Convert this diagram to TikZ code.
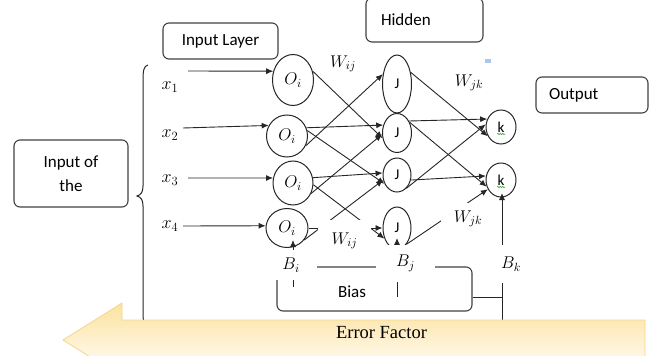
\RequirePackage{fix-cm}
\documentclass[tikz,border=0pt]{standalone}
\usepackage{fontspec}
\setmainfont{Liberation Serif}
\setsansfont{Carlito}
\usetikzlibrary{
  arrows.meta,
  shapes.geometric,
  calc,
  decorations.pathmorphing
}
\definecolor{inkgray}{RGB}{38,38,38}
\definecolor{boxgray}{RGB}{64,64,64}
\definecolor{errfill}{RGB}{252,226,158}
\definecolor{erredge}{RGB}{243,214,140}
\definecolor{markblue}{RGB}{168,199,234}
\definecolor{spellgreen}{RGB}{60,170,60}
\tikzset{
  labelbox/.style={draw=boxgray, rounded corners=6pt, line width=1.1pt,
    font=\sffamily\fontsize{17}{20}\selectfont, inner sep=0pt},
  neuron/.style={draw=inkgray, ellipse, fill=white, line width=1pt, inner sep=0pt},
  wire/.style={draw=inkgray, line width=0.9pt, -{Latex[length=7pt,width=6pt]}},
  cover/.style={fill=white, inner sep=0pt, font=\fontsize{17}{20}\selectfont},
}

\begin{document}
\begin{tikzpicture}[x=1pt, y=-1pt]
\useasboundingbox (0,0) rectangle (651,356);
\clip (0,0) rectangle (651,356);

% captions
\node[labelbox, minimum width=115pt, minimum height=36pt] (inlayer) at (220.5,41) {Input Layer};
\node[labelbox, minimum height=44pt, text width=87pt, inner xsep=15pt, align=left] (hidden) at (424.5,20) {Hidden};
\node[labelbox, minimum height=36pt, text width=86pt, inner xsep=13pt, align=left] (output) at (592,95) {Output};
\node[labelbox, minimum width=114pt, minimum height=67pt, align=center,
      font=\sffamily\fontsize{17}{24.5}\selectfont] (inputof) at (71,173.5) {Input of\\the};

% brace
\draw[inkgray, line width=1pt] (148,65) .. controls (144,66) and (143,70) .. (143,80) -- (143,186)
  .. controls (143,192) and (141,195) .. (137,196) .. controls (141,197) and (143,200) .. (143,206)
  -- (143,312) .. controls (143,322) and (144,326) .. (148,327);

% inputs
\foreach \i/\y in {1/87, 2/135, 3/180, 4/226}
  \node[font=\fontsize{18}{20}\selectfont] (x\i) at (170,\y) {$x_{\i}$};
\coordinate (x1s) at (188,71);
\coordinate (x2s) at (183,128);
\coordinate (x3s) at (188,178);
\coordinate (x4s) at (183,226);

% neurons
\node[neuron, minimum width=41pt, minimum height=51pt, font=\fontsize{17}{18}\selectfont] (o1) at (293,80) {$O_i$};
\node[neuron, minimum width=41pt, minimum height=42pt, font=\fontsize{17}{18}\selectfont] (o2) at (287,136) {$O_i$};
\node[neuron, minimum width=40pt, minimum height=44pt, font=\fontsize{17}{18}\selectfont] (o3) at (293,183) {$O_i$};
\node[neuron, minimum width=42pt, minimum height=39pt, font=\fontsize{17}{18}\selectfont] (o4) at (287,228) {$O_i$};
\node[neuron, minimum width=29pt, minimum height=58pt, font=\sffamily\fontsize{15}{18}\selectfont] (j1) at (397,84) {J};
\node[neuron, minimum width=29pt, minimum height=39pt, font=\sffamily\fontsize{15}{18}\selectfont] (j2) at (397,133) {J};
\node[neuron, minimum width=28pt, minimum height=34pt, font=\sffamily\fontsize{15}{18}\selectfont] (j3) at (397,175) {J};
\node[neuron, minimum width=28pt, minimum height=42pt, font=\sffamily\fontsize{15}{18}\selectfont] (j4) at (397,228) {J};
\node[neuron, minimum width=30pt, minimum height=34pt, font=\sffamily\fontsize{15}{18}\selectfont] (k1) at (501,127) {k};
\node[neuron, minimum width=30pt, minimum height=34pt, font=\sffamily\fontsize{15}{18}\selectfont] (k2) at (501,180) {k};

% weights
\draw[wire] (x1s) -- (o1.156);
\draw[wire] (x2s) -- (o2.150);
\draw[wire] (x3s) -- (o3.166);
\draw[wire] (x4s) -- (o4.174);
\foreach \a/\b in {o1.24/j2.200, o2.-28/j1.145, o2.23/j2.150, o2.15/j3.215, o3.-30/j2.185,
                   o3.15/j3.172, o3.-5/j4.220, o4.-35/j3.200, o4.0/j4.180}
  \draw[wire] (\a) -- (\b);
\foreach \a/\b in {j1.40/k1.215, j2.45/k1.150, j2.40/k2.205, j3.-55/k1.170,
                   j3.-20/k2.165, j4.-60/k2.215}
  \draw[wire] (\a) -- (\b);

% bias
\node[draw=boxgray, rounded corners=6pt, line width=1.1pt, minimum width=195pt, minimum height=44pt] (biasbox) at (374.5,289) {};
\node[font=\sffamily\fontsize{17}{20}\selectfont] (biastext) at (352,292) {Bias};
\coordinate (bifoot) at (293,287);
\coordinate (bjfoot) at (397,297);
\coordinate (bkfoot) at (502,324);
\draw[wire, shorten >=12pt] (bifoot) -- (bifoot |- o4.center);
\draw[wire, shorten >=10pt] (bjfoot) -- (bjfoot |- j4.center);
\draw[wire, shorten >=13pt] (bkfoot) -- (bkfoot |- k2.center);
\draw[inkgray, line width=0.9pt] (biasbox.-5) -- (biasbox.-5 -| bkfoot);

% labels
\node[cover] (wij1) at (343,64) {$W_{ij}$};
\node[cover] (wjk1) at (469,83) {$W_{jk}$};
\node[cover, minimum width=53pt, minimum height=42pt] (wij2) at (344.5,241) {$W_{ij}$};
\node[cover, minimum width=54pt, minimum height=32pt] (wjk2) at (468,219) {$W_{jk}$};
\node[cover, minimum width=52pt, minimum height=30pt] (bi) at (291,265) {$B_i$};
\node[cover, minimum width=59pt, minimum height=37pt] (bj) at (405.5,263.5) {$B_j$};
\node[cover, minimum width=42pt, minimum height=38pt] (bk) at (511,264) {$B_k$};

% error arrow
\path[draw=erredge, top color=errfill, bottom color=white, line width=0.8pt]
  (63,340) -- (122,303) -- (122,320) -- (645,320) -- (645,360) -- (122,360) -- (122,377) -- cycle;
\node[font=\fontsize{18.5}{20}\selectfont] (errlabel) at (381.5,333) {Error Factor};

% marks
\fill[markblue] (485,59) rectangle (491,63);
\foreach \k in {k1, k2}
  \draw[spellgreen, line width=0.6pt, decorate, decoration={snake, amplitude=0.7pt, segment length=2.5pt}]
    ($(\k.center)+(-4,7)$) -- ($(\k.center)+(4,7)$);
\end{tikzpicture}
\end{document}
